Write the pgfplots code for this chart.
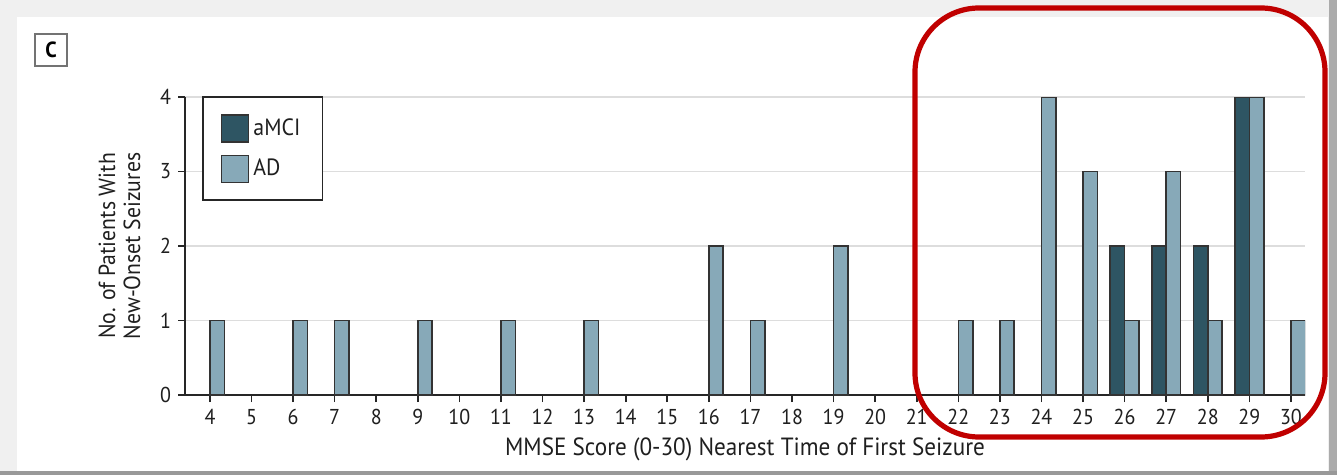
\documentclass[border=0pt]{standalone}
\usepackage{fontspec}
\setmainfont{PT Sans}[FakeStretch=0.93]
\usepackage{pgfplots}
\pgfplotsset{compat=1.18}
\definecolor{amci}{HTML}{2E5563}
\definecolor{adc}{HTML}{87A9B8}
\definecolor{edge}{HTML}{333333}
\definecolor{redbox}{HTML}{C00000}
\definecolor{gridc}{HTML}{DDDDDD}
\pgfplotsset{sqlegend/.style={legend image code/.code={\draw[##1] (0bp,-6.75bp) rectangle (13.5bp,6.75bp);}}}
\begin{document}
\begin{tikzpicture}[x=0.5bp,y=-0.5bp]
\path[use as bounding box] (0,0) rectangle (1337,475);
\fill[black!6] (0,0) rectangle (1337,475);
\fill[white] (17,17) rectangle (1328,471);
\fill[black!33] (1329,0) rectangle (1337,475);
\fill[black!40] (0,471) rectangle (1337,475);
\node[draw=black!55, line width=0.9bp, minimum size=16bp, inner sep=0pt, font=\fontsize{11}{12}\selectfont\bfseries] at (51,50) {C};
\begin{axis}[
  at={(92.5bp,-197.5bp)}, anchor=south west,
  scale only axis, width=560bp, height=149bp,
  xmin=3.4, xmax=30.34, ymin=0, ymax=4,
  axis x line*=bottom, axis y line*=left,
  axis line style={-, black!85, line width=0.9bp},
  xtick={4,...,30}, ytick={0,...,4},
  ymajorgrids, grid style={gridc, line width=0.7bp},
  tick align=outside, major tick length=3.5bp,
  tick style={black!85, line width=0.8bp},
  /pgf/number format/assume math mode=true,
  tick label style={font=\fontsize{10.8}{12}\selectfont, text=black!88},
  ybar, bar width=7.2bp,
  xlabel={MMSE Score (0-30) Nearest Time of First Seizure},
  xlabel style={font=\fontsize{12.5}{13}\selectfont, text=black!88, at={(axis description cs:0.5,0)}, anchor=north, yshift=-18bp},
  ylabel={No. of Patients With\\New-Onset Seizures},
  ylabel style={font=\fontsize{11.7}{12.5}\selectfont, text=black!88, align=center, yshift=3bp},
  legend style={at={(axis description cs:0.0152,1.003)}, anchor=north west,
    draw=black!85, line width=0.8bp, inner xsep=9bp, inner ysep=8.5bp, row sep=6bp,
    font=\fontsize{11.8}{12}\selectfont, text=black!88,
    /tikz/every even column/.append style={column sep=5bp}},
  legend cell align=left,
]
\addplot[fill=amci, draw=edge, line width=0.8bp, bar shift=-3.6bp, sqlegend]
  coordinates {(26,2) (27,2) (28,2) (29,4)};
\addplot[fill=adc, draw=edge, line width=0.8bp, bar shift=3.6bp, sqlegend]
  coordinates {(4,1) (6,1) (7,1) (9,1) (11,1) (13,1) (16,2) (17,1) (19,2)
   (22,1) (23,1) (24,4) (25,3) (26,1) (27,3) (28,1) (29,4) (30,1)};
\legend{aMCI, AD}
\end{axis}
\draw[redbox, line width=2.6bp, rounded corners=32bp] (915,8) rectangle (1325,437);
\end{tikzpicture}
\end{document}
